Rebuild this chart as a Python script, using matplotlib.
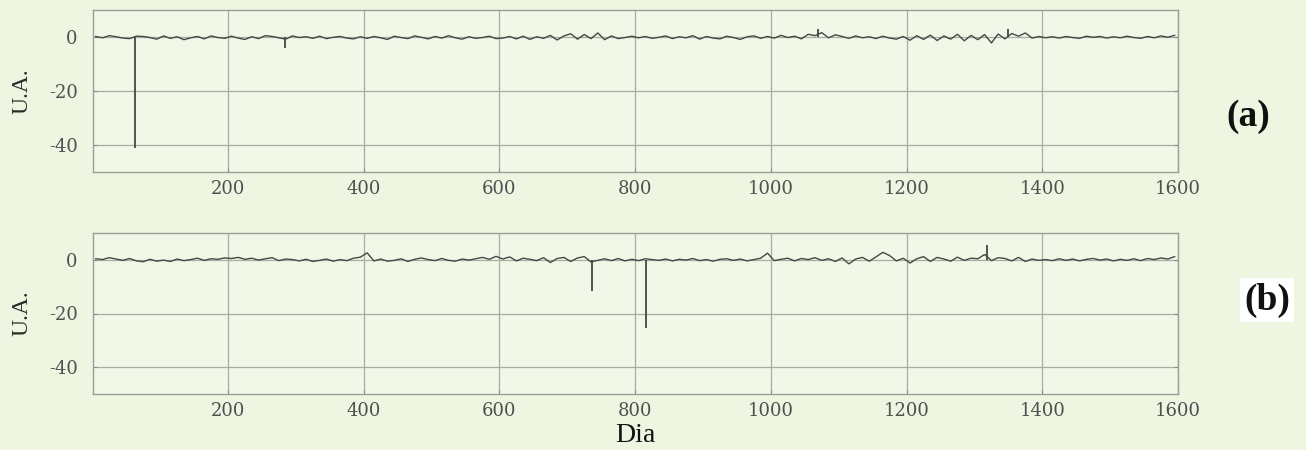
import numpy as np
import matplotlib
matplotlib.use("Agg")
import matplotlib.pyplot as plt

# Daily signal (arbitrary units), one reading every 10 days
days = np.arange(5, 1600, 10)

series_a = [
    0.2, -0.3, 0.5, 0.1, -0.4, -0.6, 0.3, 0.2, -0.2, -0.8, 0.4, -0.5, 0.1, -1.0, -0.3, 0.2, -0.7, 0.4, -0.2, -0.5,
    0.3, -0.4, -0.9, 0.1, -0.6, 0.5, 0.2, -0.3, -0.8, 0.4, -0.2, 0.1, -0.5, 0.3, -0.6, -0.1, 0.2, -0.4, -0.7, 0.1,
    -0.5, 0.2, -0.3, -0.9, 0.3, -0.2, -0.6, 0.4, -0.1, -0.7, 0.2, -0.4, 0.5, -0.3, -0.8, 0.1, -0.5, -0.2, 0.3, -0.6,
    -0.4, 0.2, -0.7, 0.3, -0.9, 0.1, -0.5, 0.6, -1.1, 0.4, 1.2, -0.8, 0.9, -0.6, 1.5, -1.0, 0.4, -0.6, -0.2, 0.3,
    -0.3, 0.2, -0.5, -0.1, 0.4, -0.6, 0.1, -0.3, 0.5, -0.8, 0.2, -0.4, -0.7, 0.3, -0.2, -0.9, 0.1, 0.4, -0.5, 0.2,
    -0.4, 0.6, -0.2, 0.3, -0.7, 1.0, 0.5, 1.6, -0.3, 0.8, 0.2, -0.5, 0.4, -0.3, 0.1, -0.6, 0.3, -0.4, -0.8, 0.2,
    -1.2, 0.5, -0.9, 0.7, -1.3, 0.4, -0.8, 1.0, -1.4, 0.6, -1.0, 0.9, -2.2, 1.1, -0.7, 1.3, 0.3, 1.5, -0.4, 0.2,
    -0.3, 0.1, -0.4, 0.2, -0.2, -0.5, 0.3, -0.1, 0.2, -0.4, 0.1, -0.3, 0.3, -0.2, -0.5, 0.2, -0.3, 0.4, -0.1, 0.6,
]

series_b = [
    0.4, 0.1, 0.8, 0.3, -0.2, 0.5, -0.4, -0.7, 0.2, -0.5, -0.1, -0.6, 0.3, -0.3, 0.1, 0.6, -0.2, 0.4, 0.2, 0.7,
    0.5, 0.9, 0.2, 0.6, -0.1, 0.4, 0.8, -0.3, 0.3, 0.1, -0.4, 0.2, -0.6, -0.2, 0.3, -0.5, 0.1, -0.3, 0.6, 1.0,
    2.6, -0.4, 0.3, -0.5, -0.2, 0.4, -0.6, 0.2, 0.7, 0.1, -0.3, 0.5, -0.2, -0.5, 0.3, -0.1, 0.4, 0.9, 0.2, 1.3,
    0.3, 1.1, -0.4, 0.6, 0.2, -0.3, 0.8, -1.0, 0.5, 0.9, -0.6, 0.7, 1.2, -0.8, -0.2, 0.4, -0.3, 0.5, -0.4, 0.2,
    -0.3, 0.4, 0.1, -0.2, 0.3, -0.4, 0.2, -0.1, 0.5, -0.3, 0.1, -0.5, 0.2, 0.4, -0.2, 0.3, -0.4, 0.1, 0.6, 2.5,
    -0.3, 0.2, 0.6, -0.4, 0.5, 0.1, 0.8, -0.2, 0.4, -0.6, 0.7, -1.5, 0.3, 0.9, -0.5, 1.1, 2.8, 1.6, -0.4, 0.6,
    -1.2, 0.4, 1.2, -0.6, 0.9, 0.3, -0.5, 1.0, -0.2, 0.6, 0.4, 2.0, -0.3, 0.8, 0.5, -0.4, 0.9, -0.6, 0.3, -0.2,
    0.1, -0.3, 0.4, -0.2, 0.3, -0.4, 0.2, 0.5, -0.1, 0.3, -0.4, 0.2, -0.2, 0.4, -0.3, 0.5, 0.1, 0.7, 0.3, 1.2,
]

# Isolated single-day events
spike_days_a = [63, 284, 1069, 1349]
spike_vals_a = [-41, -4, 3, 3]
spike_days_b = [737, 816, 1319]
spike_vals_b = [-11.5, -25.5, 5.5]

xticks = [200, 400, 600, 800, 1000, 1200, 1400, 1600]
yticks = [0, -20, -40]
panel_labels = ["(a)", "(b)"]

bg = "#eef6e2"
line_col = "#474747"
label_font = "Liberation Serif"
tick_font = "DejaVu Serif"

plt.rcParams["font.family"] = "serif"
plt.rcParams["font.serif"] = [label_font]
plt.rcParams["axes.unicode_minus"] = False

fig = plt.figure(figsize=(13.06, 4.5), dpi=100, facecolor=bg)

boxes = [
    [93 / 1306, 1 - 172 / 450, (1178 - 93) / 1306, (172 - 10) / 450],
    [93 / 1306, 1 - 394 / 450, (1178 - 93) / 1306, (394 - 233) / 450],
]
data = [(series_a, spike_days_a, spike_vals_a), (series_b, spike_days_b, spike_vals_b)]

axes = []
for box, (vals, sd, sv) in zip(boxes, data):
    ax = fig.add_axes(box)
    ax.set_facecolor("#f1f8e8")
    ax.plot(days, vals, color=line_col, lw=1.0)
    ax.vlines(sd, 0, sv, color=line_col, lw=1.3)
    ax.set_xlim(1, 1600)
    ax.set_ylim(-50, 10)
    ax.set_xticks(xticks, [str(t) for t in xticks], fontfamily=tick_font, fontsize=13)
    ax.set_yticks(yticks, [str(t) for t in yticks], fontfamily=tick_font, fontsize=13)
    ax.grid(True, color="#a9ada2", lw=0.9)
    ax.set_axisbelow(True)
    ax.tick_params(direction="in", length=3, color="#888888",
                   labelcolor="#505050", right=True, top=False)
    ax.tick_params(axis="x", pad=6)
    ax.tick_params(axis="y", pad=11)
    for s in ax.spines.values():
        s.set_color("#9a9e95")
        s.set_linewidth(1.0)
    ax.set_ylabel("U.A.", fontsize=17, color="#2a2a2a", labelpad=12, fontfamily=label_font)
    axes.append(ax)

axes[1].set_xlabel("Dia", fontsize=20, color="#111111", labelpad=2, fontfamily=label_font)

fig.text(1248 / 1306, 1 - 117 / 450, panel_labels[0], fontsize=27, fontweight="bold",
         ha="center", va="center", color="#111111", fontfamily=label_font)
fig.text(1267 / 1306, 1 - 300 / 450, panel_labels[1], fontsize=27, fontweight="bold",
         ha="center", va="center", color="#111111", fontfamily=label_font,
         bbox=dict(facecolor="white", edgecolor="none", pad=3))

fig.savefig("out.png", dpi=100, facecolor=bg)
